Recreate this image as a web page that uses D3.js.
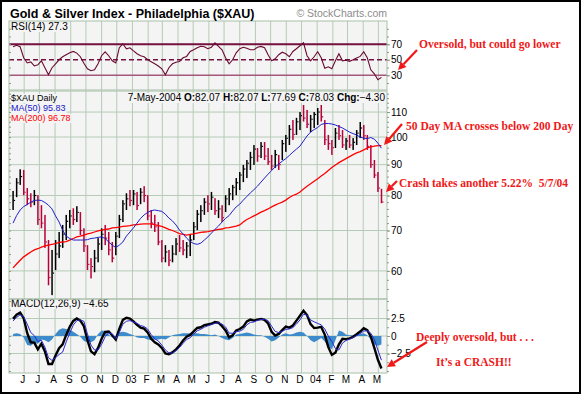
<!DOCTYPE html>
<html lang="en">
<head>
<meta charset="UTF-8">
<title>Gold &amp; Silver Index - Philadelphia ($XAU)</title>
<script src="https://cdn.jsdelivr.net/npm/d3@7"></script>
<style>
  body { margin: 0; background: #fff; }
  svg { font-family: "Liberation Sans", Arial, sans-serif; }
</style>
</head>
<body>
<script>
// weekly samples (week ending Friday), 10-May-2002 .. 7-May-2004
var weeks = d3.timeFriday.range(new Date(2002, 4, 10), new Date(2004, 4, 8));

var priceHigh = [81.4, 85.5, 88.4, 88.2, 82.3, 80.7, 81.7, 80.1, 77.1, 74.3,
  67.5, 65.0, 67.5, 69.6, 71.5, 74.3, 75.7, 76.2, 76.8, 75.1,
  70.6, 66.2, 63.0, 65.0, 68.0, 70.6, 71.5, 69.6, 67.0, 69.6,
  74.3, 78.6, 80.7, 81.7, 81.7, 81.1, 82.3, 82.9, 80.1, 75.7,
  74.3, 72.3, 67.5, 66.2, 65.0, 66.2, 68.0, 68.8, 67.5, 67.0,
  68.8, 72.3, 75.7, 77.1, 79.2, 80.1, 81.1, 79.2, 78.6, 77.1,
  80.1, 82.3, 83.3, 85.5, 87.5, 89.9, 91.6, 94.5, 97.0, 95.9,
  98.1, 98.1, 95.9, 93.4, 95.2, 93.4, 98.9, 100.8, 104.7, 106.7,
  107.6, 110.0, 113.0, 110.9, 108.8, 110.0, 111.7, 113.0, 106.7, 100.8,
  98.9, 103.5, 104.7, 102.7, 99.6, 100.8, 99.6, 102.7, 105.9, 104.7,
  100.8, 97.0, 91.6, 87.5, 82.07];
var priceLow = [75.7, 79.5, 83.3, 80.1, 77.1, 76.5, 77.1, 71.5, 70.6, 65.5,
  56.8, 54.7, 60.2, 63.0, 65.5, 67.5, 70.6, 71.5, 72.3, 68.8,
  64.5, 60.2, 58.3, 59.7, 62.0, 65.0, 66.2, 63.7, 62.0, 63.7,
  68.0, 72.3, 75.7, 76.8, 77.1, 75.7, 77.4, 78.0, 72.8, 70.6,
  69.6, 66.2, 62.0, 62.0, 61.1, 62.0, 63.7, 64.5, 63.7, 63.0,
  63.5, 67.5, 70.1, 72.3, 74.3, 75.1, 75.7, 74.3, 73.4, 72.3,
  75.1, 77.1, 78.6, 80.1, 81.7, 84.2, 85.5, 88.2, 89.9, 91.0,
  92.3, 91.6, 89.9, 88.2, 88.9, 88.2, 91.6, 94.5, 97.0, 98.9,
  100.8, 102.7, 106.1, 103.5, 101.9, 103.5, 104.7, 106.1, 97.0, 95.2,
  93.4, 95.9, 98.9, 95.9, 95.2, 95.9, 95.2, 97.0, 99.6, 98.9,
  95.2, 88.9, 85.5, 81.1, 77.69];
var priceClose = [78.5, 84.0, 86.0, 81.0, 79.0, 78.0, 80.0, 73.0, 72.0, 67.0,
  58.5, 59.5, 64.0, 66.0, 69.0, 72.5, 74.0, 73.0, 75.0, 70.0,
  66.0, 61.5, 61.0, 63.0, 66.5, 69.0, 68.0, 65.0, 63.0, 68.5,
  73.0, 77.5, 79.0, 78.5, 80.5, 77.0, 81.0, 80.0, 74.0, 72.0,
  71.0, 67.0, 63.0, 64.5, 62.5, 64.0, 66.5, 65.5, 65.0, 66.0,
  67.5, 71.0, 74.5, 75.5, 78.0, 77.5, 79.5, 75.5, 76.0, 73.5,
  79.0, 80.5, 82.5, 84.0, 86.5, 88.5, 90.5, 92.5, 95.5, 93.0,
  96.5, 93.0, 91.0, 89.5, 93.5, 90.0, 97.5, 99.5, 103.0, 101.0,
  106.0, 108.5, 107.5, 105.0, 107.0, 109.0, 110.0, 108.0, 99.0, 97.5,
  96.0, 101.5, 100.5, 97.0, 98.5, 97.0, 98.0, 101.5, 103.5, 100.5,
  96.5, 90.0, 86.5, 82.3, 78.03];
var ma50 = [72.0, 74.1, 75.7, 76.7, 77.3, 78.0, 78.5, 78.6, 78.5, 77.9,
  77.1, 76.0, 74.0, 72.3, 70.1, 68.5, 67.9, 67.5, 67.5, 67.5,
  67.5, 67.6, 67.9, 68.0, 68.2, 68.3, 67.9, 67.0, 66.2, 65.6,
  66.2, 67.0, 68.5, 69.6, 70.7, 72.0, 73.3, 74.3, 75.0, 75.5,
  75.7, 75.5, 75.3, 74.5, 73.4, 72.6, 71.5, 70.1, 69.1, 68.0,
  67.1, 66.6, 66.4, 66.7, 67.5, 68.3, 69.3, 70.3, 71.2, 72.3,
  73.3, 74.1, 75.4, 76.6, 77.4, 78.6, 79.7, 80.8, 81.8, 82.9,
  84.2, 85.5, 86.8, 88.0, 89.2, 90.2, 91.2, 92.1, 93.2, 94.4,
  95.5, 96.6, 98.5, 100.4, 101.9, 102.9, 103.7, 104.9, 105.3, 105.3,
  105.1, 104.7, 104.1, 103.5, 102.7, 101.9, 101.3, 100.8, 100.0, 99.6,
  99.4, 99.8, 99.2, 97.7, 95.83];
var ma200 = [60.7, 61.6, 62.5, 63.3, 63.9, 64.5, 65.0, 65.3, 65.7, 66.0,
  66.2, 66.4, 66.6, 66.9, 67.0, 67.1, 67.5, 67.9, 68.3, 68.5,
  68.8, 69.1, 69.3, 69.6, 69.9, 70.1, 70.3, 70.4, 70.7, 70.8,
  70.9, 71.1, 71.2, 71.3, 71.5, 71.6, 71.7, 71.8, 71.8, 71.8,
  71.6, 71.3, 71.1, 70.7, 70.3, 70.0, 69.6, 69.2, 69.0, 68.8,
  69.0, 69.1, 69.3, 69.5, 69.6, 69.7, 69.9, 70.1, 70.3, 70.4,
  70.7, 70.8, 71.0, 71.2, 71.5, 72.3, 73.0, 73.5, 74.0, 74.5,
  75.1, 75.5, 76.0, 76.6, 77.1, 77.6, 78.0, 78.6, 79.4, 80.0,
  80.4, 81.1, 82.0, 82.9, 83.7, 84.5, 85.3, 86.2, 87.0, 88.0,
  89.0, 89.9, 90.7, 91.4, 92.1, 92.8, 93.5, 94.1, 94.6, 95.2,
  95.9, 96.3, 96.6, 96.8, 96.78];
var rsi = [66.8, 68.7, 66.8, 52.6, 45.9, 47.2, 42.0, 43.5, 48.7, 39.7,
  30.6, 39.7, 44.8, 50.0, 53.9, 56.5, 59.0, 60.7, 58.6, 53.9,
  45.5, 38.4, 35.8, 37.0, 44.8, 55.2, 60.3, 55.2, 48.7, 45.9,
  65.5, 70.6, 64.2, 65.5, 61.4, 57.7, 55.2, 53.9, 50.0, 47.4,
  44.8, 42.0, 38.4, 30.6, 39.7, 44.8, 46.8, 47.8, 52.6, 54.3,
  60.7, 62.9, 65.5, 67.4, 66.8, 64.2, 66.1, 71.9, 67.2, 62.9,
  52.6, 44.8, 50.0, 59.0, 64.2, 66.1, 64.8, 62.9, 62.9, 66.1,
  67.2, 65.5, 56.5, 48.7, 51.3, 56.5, 59.7, 57.7, 53.9, 60.7,
  64.2, 68.1, 71.9, 55.2, 48.7, 53.9, 60.3, 52.6, 39.0, 41.0,
  38.4, 48.7, 57.7, 48.7, 49.4, 48.0, 50.0, 52.2, 54.3, 60.3,
  52.6, 37.0, 31.9, 24.2, 27.3];
var macd = [2.45, 3.05, 3.33, 2.55, 0.4, -0.9, -0.95, -1.9, -1.1, -2.2,
  -4.0, -4.0, -2.8, -1.75, -1.2, 0.15, 1.3, 2.15, 2.5, 2.2,
  1.4, -0.6, -2.2, -2.6, -1.7, -0.4, 0.6, 0.65, 0.1, -0.5,
  1.0, 2.3, 2.6, 2.5, 2.1, 1.6, 1.2, 1.05, 0.5, -0.4,
  -0.9, -1.2, -1.7, -2.5, -2.6, -2.35, -1.9, -1.35, -0.65, -0.1,
  0.15, 0.65, 1.15, 1.25, 1.55, 1.65, 1.75, 2.0, 1.9, 1.4,
  0.8, -0.2, 0.1, 0.8, 1.0, 1.35, 2.1, 2.35, 2.2, 2.35,
  2.45, 2.3, 1.8, 0.6, 0.05, 0.3, 0.85, 1.35, 1.2, 1.5,
  2.2, 2.9, 3.6, 3.0, 1.7, 1.13, 1.2, 1.3, 0.2, -1.6,
  -2.7, -2.4, -1.2, -0.4, -0.45, -0.35, -0.12, 0.25, 0.64, 1.1,
  0.85, -0.1, -1.7, -3.4, -4.65];
var signal = [2.15, 2.65, 3.03, 2.75, 1.7, 0.5, 0.05, -0.8, -0.6, -1.6,
  -3.1, -3.5, -3.1, -2.65, -2.3, -0.85, 0.4, 1.55, 2.2, 2.3,
  2.1, 0.3, -1.3, -2.0, -2.0, -1.2, -0.1, 0.45, 0.3, -0.4,
  0.5, 1.7, 2.1, 2.2, 2.0, 1.8, 1.5, 1.35, 1.0, 0.2,
  -0.4, -0.7, -1.3, -2.0, -2.4, -2.45, -2.1, -1.65, -1.05, -0.5,
  -0.25, 0.25, 0.75, 0.95, 1.25, 1.45, 1.65, 1.8, 1.9, 1.7,
  1.3, 0.4, 0.4, 0.6, 0.7, 0.95, 1.6, 1.95, 2.0, 2.25,
  2.35, 2.4, 2.2, 1.4, 0.65, 0.5, 0.65, 0.95, 1.0, 1.2,
  1.7, 2.3, 3.1, 3.0, 2.3, 2.03, 1.8, 1.6, 1.0, 0.0,
  -0.8, -1.8, -2.0, -1.0, -0.65, -0.45, -0.22, 0.05, 0.34, 0.7,
  0.75, 0.4, -0.5, -2.0, -3.45];
var hist = [0.3, 0.4, 0.3, -0.2, -1.3, -1.4, -1.0, -1.1, -0.5, -0.6,
  -0.9, -0.5, 0.3, 0.9, 1.1, 1.0, 0.9, 0.6, 0.3, -0.1,
  -0.7, -0.9, -0.9, -0.6, 0.3, 0.8, 0.7, 0.2, -0.2, -0.1,
  0.5, 0.6, 0.5, 0.3, 0.1, -0.2, -0.3, -0.3, -0.5, -0.6,
  -0.5, -0.5, -0.4, -0.5, -0.2, 0.1, 0.2, 0.3, 0.4, 0.4,
  0.4, 0.4, 0.4, 0.3, 0.3, 0.2, 0.1, 0.2, 0.0, -0.3,
  -0.5, -0.6, -0.3, 0.2, 0.3, 0.4, 0.5, 0.4, 0.2, 0.1,
  0.1, -0.1, -0.4, -0.8, -0.6, -0.2, 0.2, 0.4, 0.2, 0.3,
  0.5, 0.6, 0.5, 0.0, -0.6, -0.9, -0.6, -0.3, -0.8, -1.6,
  -1.9, -0.6, 0.8, 0.6, 0.2, 0.1, 0.1, 0.2, 0.3, 0.4,
  0.1, -0.5, -1.2, -1.4, -1.2];

var lastOpen = 82.07, lastChange = -4.30;
var monthLabels = ["J", "J", "A", "S", "O", "N", "D", "03", "F", "M", "A", "M",
  "J", "J", "A", "S", "O", "N", "D", "04", "F", "M", "A", "M"];
var monthStarts = d3.timeMonth.range(new Date(2002, 5, 1), new Date(2004, 4, 2));
var rsiTicks = [30, 50, 70];
var priceTicks = [60, 70, 80, 90, 100, 110];
var macdTicks = [-2.5, 0, 2.5];

var notes = [
  {text: "Oversold, but could go lower", x: 419, y: 48},
  {text: "50 Day MA crosses below 200 Day", x: 406, y: 130},
  {text: "Crash takes another 5.22%\u00a0 5/7/04", x: 399, y: 187},
  {text: "Deeply oversold, but . . .", x: 416, y: 341},
  {text: "It\u2019s a CRASH!!", x: 436, y: 366}
];
var arrows = [[417, 50, 398, 70], [402, 124, 384, 145], [397, 181, 386, 192], [427, 342, 387, 367]];

var W = 584, H = 395;
var left = 9, right = 387;
var panelBg = "#f4f4f4", gridColor = "#b6cbb6", noteRed = "#f01818";
var rsiP = {top: 21, bottom: 90}, priceP = {top: 91, bottom: 299}, macdP = {top: 299, bottom: 373};

var svg = d3.select("body").append("svg").attr("width", W).attr("height", H);
svg.append("rect").attr("width", W).attr("height", H).attr("fill", "#fff");

var x = d3.scaleTime()
  .domain([new Date(2002, 4, 2), new Date(2004, 4, 18)])
  .range([left, right]);
var yRsi = d3.scaleLinear().domain([11, 100]).range([rsiP.bottom, rsiP.top]);
var yPrice = d3.scaleLog().domain([53.9, 119.2]).range([priceP.bottom, priceP.top]);
var yMacd = d3.scaleLinear().domain([-5.29, 5.29]).range([macdP.bottom, macdP.top]);

// panels + grid
[rsiP, priceP, macdP].forEach(function(p, k) {
  p.g = svg.append("g");
  p.g.append("rect").attr("x", left).attr("y", p.top)
    .attr("width", right - left).attr("height", p.bottom - p.top).attr("fill", panelBg);
  p.g.selectAll(".vgrid").data(monthStarts).enter().append("line")
    .attr("x1", function(d) { return x(d); }).attr("x2", function(d) { return x(d); })
    .attr("y1", p.top).attr("y2", p.bottom)
    .attr("stroke", gridColor).attr("stroke-width", 1);
  svg.append("clipPath").attr("id", "clip" + k).append("rect")
    .attr("x", left).attr("y", p.top).attr("width", right - left).attr("height", p.bottom - p.top);
});

priceP.g.selectAll(".hgrid").data(priceTicks).enter().append("line")
  .attr("x1", left).attr("x2", right)
  .attr("y1", function(d) { return yPrice(d); }).attr("y2", function(d) { return yPrice(d); })
  .attr("stroke", gridColor);
macdP.g.selectAll(".hgrid").data(macdTicks).enter().append("line")
  .attr("x1", left).attr("x2", right)
  .attr("y1", function(d) { return yMacd(d); }).attr("y2", function(d) { return yMacd(d); })
  .attr("stroke", gridColor);

// labels sit on small panel-coloured boxes, boxes go in first
var labelBoxes = svg.append("g");
var labelTexts = svg.append("g");

// RSI
rsiP.g.selectAll(".ref").data(rsiTicks).enter().append("line")
  .attr("x1", left).attr("x2", right)
  .attr("y1", function(d) { return yRsi(d); }).attr("y2", function(d) { return yRsi(d); })
  .attr("stroke", function(d) { return d == 30 ? "#a3587a" : "#74113f"; })
  .attr("stroke-width", function(d) { return d == 70 ? 2 : 1.3; })
  .attr("stroke-dasharray", function(d) { return d == 50 ? "5,3" : null; });

rsiP.g.append("path").datum(rsi)
  .attr("clip-path", "url(#clip0)")
  .attr("d", d3.line().x(function(d, i) { return x(weeks[i]); }).y(function(d) { return yRsi(d); }))
  .attr("fill", "none").attr("stroke", "#6a0a32").attr("stroke-width", 1.1);

// price bars (high-low with close tick)
var bars = priceP.g.append("g").attr("clip-path", "url(#clip1)")
  .selectAll("g").data(weeks).enter().append("g")
  .attr("fill", function(d, i) { return (i == 0 || priceClose[i] >= priceClose[i - 1]) ? "#000" : "#b8003a"; });
bars.append("rect")
  .attr("x", function(d) { return x(d) - 0.7; })
  .attr("width", 1.5)
  .attr("y", function(d, i) { return yPrice(priceHigh[i]); })
  .attr("height", function(d, i) { return yPrice(priceLow[i]) - yPrice(priceHigh[i]); });
bars.append("rect")
  .attr("x", function(d) { return x(d) + 0.8; })
  .attr("width", 1.2).attr("height", 1.2)
  .attr("y", function(d, i) { return yPrice(priceClose[i]) - 0.6; });

priceP.g.append("path").datum(ma200)
  .attr("clip-path", "url(#clip1)")
  .attr("d", d3.line().x(function(d, i) { return x(weeks[i]); }).y(function(d) { return yPrice(d); }))
  .attr("fill", "none").attr("stroke", "#ff0000").attr("stroke-width", 1.3);
priceP.g.append("path").datum(ma50)
  .attr("clip-path", "url(#clip1)")
  .attr("d", d3.line().x(function(d, i) { return x(weeks[i]); }).y(function(d) { return yPrice(d); }))
  .attr("fill", "none").attr("stroke", "#2020c8").attr("stroke-width", 1);

// MACD
macdP.g.append("path").datum(hist)
  .attr("clip-path", "url(#clip2)")
  .attr("d", d3.area().x(function(d, i) { return x(weeks[i]); })
    .y0(yMacd(0)).y1(function(d) { return yMacd(d); }))
  .attr("fill", "#3d8bcb");
macdP.g.append("path").datum(macd)
  .attr("clip-path", "url(#clip2)")
  .attr("d", d3.line().x(function(d, i) { return x(weeks[i]); }).y(function(d) { return yMacd(d); }))
  .attr("fill", "none").attr("stroke", "#000").attr("stroke-width", 2.4);
macdP.g.append("path").datum(signal)
  .attr("clip-path", "url(#clip2)")
  .attr("d", d3.line().x(function(d, i) { return x(weeks[i]); }).y(function(d) { return yMacd(d); }))
  .attr("fill", "none").attr("stroke", "#2a2ad0").attr("stroke-width", 1);

// panel borders
[rsiP, priceP, macdP].forEach(function(p) {
  svg.append("rect").attr("x", left).attr("y", p.top)
    .attr("width", right - left).attr("height", p.bottom - p.top)
    .attr("fill", "none").attr("stroke", "#a9c0a9").attr("stroke-width", 1);
});

// right axes (left edge gets the small inner ticks only)
function rightAxis(scale, major, minor, fmt) {
  var g = svg.append("g").attr("transform", "translate(" + right + ",0)");
  g.call(d3.axisRight(scale).tickValues(minor).tickSize(2).tickFormat(""));
  g.select(".domain").remove();
  var g2 = svg.append("g").attr("transform", "translate(" + right + ",0)");
  g2.call(d3.axisRight(scale).tickValues(major).tickSize(3).tickPadding(1).tickFormat(fmt));
  g2.select(".domain").remove();
  [g, g2].forEach(function(s) {
    s.attr("font-family", null);
    s.selectAll("line").attr("stroke", "#8a9a8a");
    s.selectAll("text").attr("font-size", 10).attr("fill", "#000");
  });
  var gl = svg.append("g").attr("transform", "translate(" + left + ",0)");
  gl.call(d3.axisLeft(scale).tickValues(minor).tickSize(-2).tickFormat(""));
  gl.select(".domain").remove();
  gl.selectAll("line").attr("stroke", "#8a9a8a");
}
rightAxis(yRsi, rsiTicks, [20, 30, 40, 50, 60, 70, 80, 90], d3.format("d"));
rightAxis(yPrice, priceTicks, d3.range(56, 119, 2), d3.format("d"));
rightAxis(yMacd, macdTicks, [-5, -3.75, -2.5, -1.25, 0, 1.25, 2.5, 3.75, 5], function(d) { return d == 0 ? "0" : d3.format(".1f")(d); });

// month labels
svg.selectAll(".month").data(monthStarts).enter().append("text")
  .attr("x", function(d) { return x(d) - 1.5; })
  .attr("y", 383)
  .attr("text-anchor", "middle").attr("font-size", 10)
  .text(function(d, i) { return monthLabels[i]; });

// in-panel labels
function label(lx, ly, parts, anchor, size) {
  var t = labelTexts.append("text").attr("x", lx).attr("y", ly)
    .attr("font-size", size || 10).attr("text-anchor", anchor || "start");
  parts.forEach(function(p) {
    t.append("tspan").text(p[0]).attr("fill", p[1] || "#000")
      .attr("font-weight", p[2] ? "bold" : null);
  });
  var b = t.node().getBBox();
  labelBoxes.append("rect")
    .attr("x", b.x - 1).attr("y", b.y + 1).attr("width", b.width + 2).attr("height", b.height - 1)
    .attr("fill", panelBg);
}
var n = weeks.length - 1;
var f2 = d3.format(".2f");
label(11, 30, [["RSI(14) " + rsi[n].toFixed(1)]]);
label(11, 101, [["$XAU Daily"]], null, 9);
label(11, 111, [["MA(50) " + f2(ma50[n]), "#2020c8"]], null, 9);
label(11, 121, [["MA(200) " + f2(ma200[n]), "#ff0000"]], null, 9);
label(385, 101, [["7-May-2004 "], ["O:", null, true], [f2(lastOpen) + " "], ["H:", null, true],
  [f2(priceHigh[n]) + " "], ["L:", null, true], [f2(priceLow[n]) + " "], ["C:", null, true],
  [f2(priceClose[n]) + " "], ["Chg:", null, true], [f2(lastChange)]], "end");
label(11, 307, [["MACD(12,26,9) " + f2(macd[n])]]);

// title
svg.append("text").attr("x", 10).attr("y", 18)
  .attr("font-size", 12.5).attr("font-weight", "bold")
  .text("Gold & Silver Index - Philadelphia ($XAU)");
svg.append("text").attr("x", right).attr("y", 17)
  .attr("font-size", 10.5).attr("fill", "#8c8c8c").attr("text-anchor", "end")
  .text("\u00a9 StockCharts.com");

// notes
svg.selectAll(".note").data(notes).enter().append("text")
  .attr("x", function(d) { return d.x; }).attr("y", function(d) { return d.y; })
  .style("font-family", "'Liberation Serif', 'Times New Roman', serif")
  .attr("font-weight", "bold").attr("font-size", 11.5).attr("fill", noteRed)
  .text(function(d) { return d.text; });

arrows.forEach(function(a) {
  var dx = a[2] - a[0], dy = a[3] - a[1];
  var len = Math.sqrt(dx * dx + dy * dy), ux = dx / len, uy = dy / len;
  var hl = 8, hw = 4;
  var bx = a[2] - ux * hl, by = a[3] - uy * hl;
  svg.append("line").attr("x1", a[0]).attr("y1", a[1]).attr("x2", bx).attr("y2", by)
    .attr("stroke", noteRed).attr("stroke-width", 2.2);
  svg.append("polygon")
    .attr("points", [[a[2], a[3]], [bx - uy * hw, by + ux * hw], [bx + uy * hw, by - ux * hw]].join(" "))
    .attr("fill", noteRed);
});

// frame
svg.append("rect").attr("x", 1).attr("y", 1).attr("width", 579).attr("height", 392)
  .attr("fill", "none").attr("stroke", "#000").attr("stroke-width", 2);
</script>
</body>
</html>
